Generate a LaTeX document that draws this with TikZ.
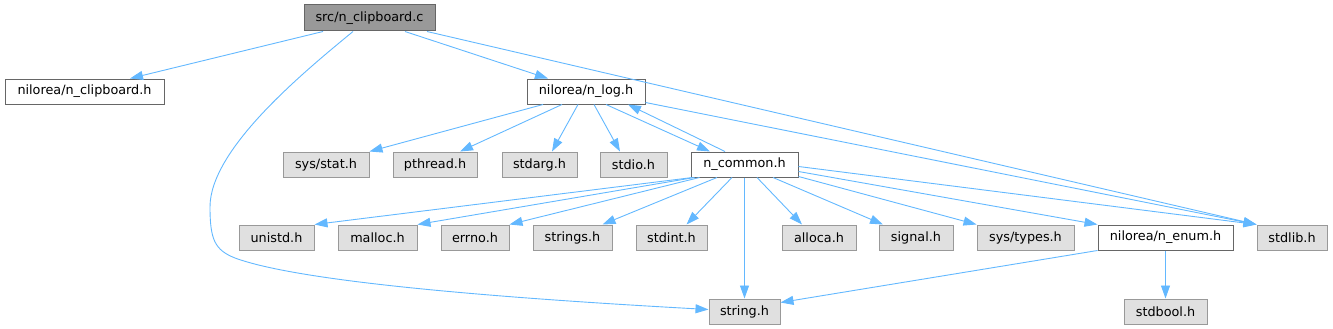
\documentclass[tikz,border=0pt]{standalone}
\usepackage{fontspec,tikz}
\usetikzlibrary{arrows.meta}
\setmainfont{DejaVu Sans}
\definecolor{edgeblue}{HTML}{63B8FF}
\definecolor{sysfill}{HTML}{E0E0E0}
\definecolor{sysline}{HTML}{999999}
\definecolor{ownline}{HTML}{666666}
\definecolor{rootfill}{HTML}{999999}
\begin{document}
\begin{tikzpicture}[x=1pt,y=-1pt,
  box/.style={draw,line width=1pt,inner sep=0pt,minimum height=25pt,font=\fontsize{12.8}{15}\selectfont},
  sysbox/.style={box,fill=sysfill,draw=sysline},
  ownbox/.style={box,fill=white,draw=ownline},
  rootbox/.style={box,fill=rootfill,draw=ownline},
  edge/.style={draw=edgeblue,line width=0.9pt,-{Triangle[length=13pt,width=9pt]}}]
\path[use as bounding box] (0,0) rectangle (1333,329);
% top rows
\node[rootbox,minimum width=131pt,minimum height=26pt] (clip) at (369.5,18) {src/n\_clipboard.c};
\node[ownbox,minimum width=159pt] (clipH) at (84.5,91.5) {nilorea/n\_clipboard.h};
\node[ownbox,minimum width=118pt] (log) at (586,91.5) {nilorea/n\_log.h};
\node[sysbox,minimum width=86pt] (stat) at (326,164.5) {sys/stat.h};
\node[sysbox,minimum width=84pt] (pthread) at (435,164.5) {pthread.h};
\node[sysbox,minimum width=75pt] (stdarg) at (539.5,164.5) {stdarg.h};
\node[sysbox,minimum width=67pt] (stdio) at (633.5,164.5) {stdio.h};
\node[ownbox,minimum width=107pt] (common) at (744.5,164.5) {n\_common.h};
% third row
\node[sysbox,minimum width=75pt] (unistd) at (276.5,237.5) {unistd.h};
\node[sysbox,minimum width=79pt] (malloc) at (377.5,237.5) {malloc.h};
\node[sysbox,minimum width=68pt] (errno) at (475,237.5) {errno.h};
\node[sysbox,minimum width=79pt] (strings) at (572.5,237.5) {strings.h};
\node[sysbox,minimum width=71pt] (stdint) at (671.5,237.5) {stdint.h};
\node[sysbox,minimum width=74pt] (alloca) at (819,237.5) {alloca.h};
\node[sysbox,minimum width=74pt] (signal) at (916,237.5) {signal.h};
\node[sysbox,minimum width=97pt] (systypes) at (1025.5,237.5) {sys/types.h};
\node[ownbox,minimum width=135pt] (enum) at (1165.5,237.5) {nilorea/n\_enum.h};
\node[sysbox,minimum width=70pt] (stdlib) at (1292,237.5) {stdlib.h};
% bottom row
\node[sysbox,minimum width=71pt] (string) at (744.5,311.5) {string.h};
\node[sysbox,minimum width=83pt] (stdbool) at (1165.5,311.5) {stdbool.h};
% includes of src/n_clipboard.c
\draw[edge] ([xshift=-46.5pt]clip.south) -- ([xshift=45.5pt]clipH.north);
\draw[edge] ([xshift=-16.5pt]clip.south) .. controls (300,75) and (210,150) .. (210,207)
  .. controls (210,240) and (215,250) .. (235,258)
  .. controls (300,282) and (500,298) .. ([yshift=2pt]string.west);
\draw[edge] ([xshift=35.5pt]clip.south) -- ([xshift=-38pt]log.north);
\draw[edge] ([xshift=57.5pt]clip.south) -- (stdlib.north west);
% includes of nilorea/n_log.h
\draw[edge] ([xshift=-43pt]log.south) -- (stat.north east);
\draw[edge] ([xshift=-24pt]log.south) -- ([xshift=25pt]pthread.north);
\draw[edge] ([xshift=-8pt]log.south) -- ([xshift=12.5pt]stdarg.north);
\draw[edge] ([xshift=8pt]log.south) -- ([xshift=-13.5pt]stdio.north);
\draw[edge] ([xshift=20pt]log.south) -- ([xshift=-34.5pt]common.north);
\draw[edge] ([yshift=2pt]log.south east) -- (stdlib.north west);
% includes of n_common.h
\draw[edge] ([xshift=-19.5pt]common.north) -- ([xshift=42pt]log.south);
\draw[edge] ([xshift=2pt]common.south west) -- (unistd.north east);
\draw[edge] ([xshift=4pt]common.south west) -- (malloc.north east);
\draw[edge] ([xshift=9pt]common.south west) -- (errno.north east);
\draw[edge] ([xshift=-27.5pt]common.south) -- ([xshift=30pt]strings.north);
\draw[edge] ([xshift=-12.5pt]common.south) -- ([xshift=15pt]stdint.north);
\draw[edge] (common.south) -- (string.north);
\draw[edge] ([xshift=12.5pt]common.south) -- ([xshift=-17pt]alloca.north);
\draw[edge] ([xshift=28.5pt]common.south) -- ([xshift=-33pt]signal.north);
\draw[edge] ([yshift=1pt]common.south east) -- (systypes.north west);
\draw[edge] ([yshift=6pt]common.south east) -- (enum.north west);
\draw[edge] ([yshift=11pt]common.south east) -- (stdlib.north west);
% includes of nilorea/n_enum.h
\draw[edge] (enum.south west) -- ([yshift=-4pt]string.north east);
\draw[edge] (enum.south) -- (stdbool.north);
\end{tikzpicture}
\end{document}
